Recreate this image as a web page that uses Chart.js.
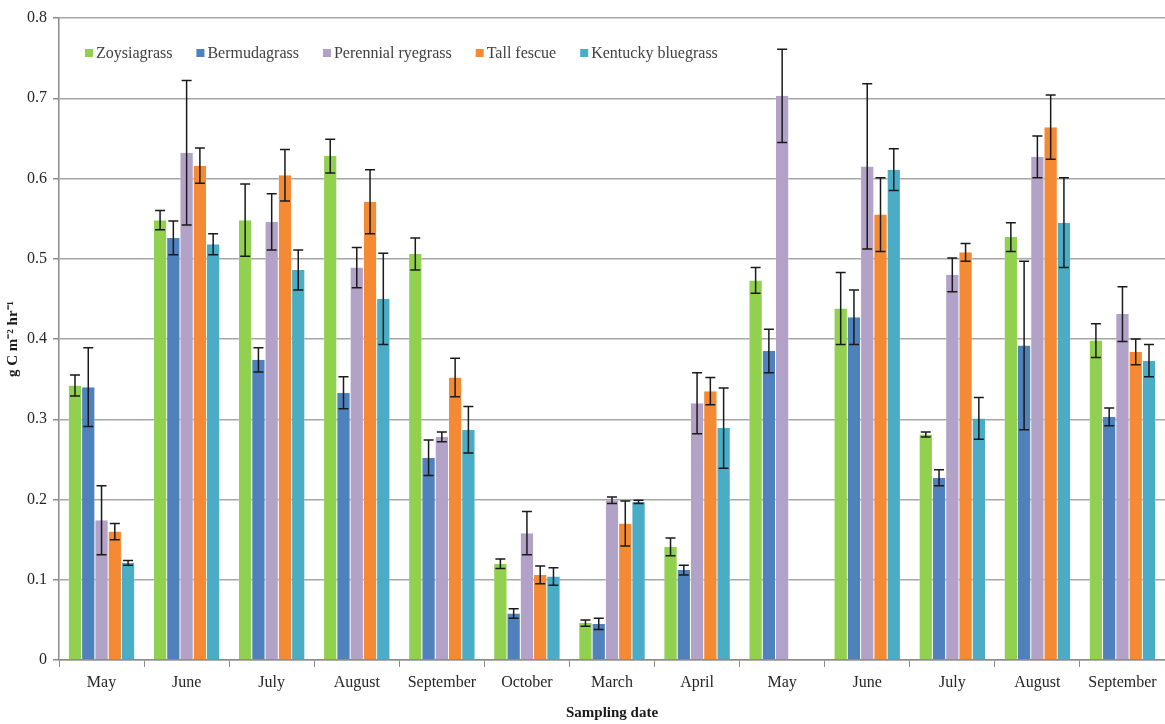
<!DOCTYPE html>
<html>
<head>
<meta charset="utf-8">
<script src="https://cdn.jsdelivr.net/npm/chart.js@4.4.0/dist/chart.umd.min.js"></script>
<style>
html,body{margin:0;padding:0;background:#fff;}
#wrap{width:1165px;height:724px;position:relative;}
</style>
</head>
<body>
<div id="wrap"><canvas id="c" width="1165" height="724"></canvas></div>
<script>
const categories = ["May","June","July","August","September","October","March","April","May","June","July","August","September"];
const seriesNames = ["Zoysiagrass","Bermudagrass","Perennial ryegrass","Tall fescue","Kentucky bluegrass"];
const seriesColors = ["#92D050","#4F81BD","#B3A2C7","#F58A35","#4BACC6"];

const zoysia     = [0.342,0.548,0.548,0.628,0.506,0.120,0.046,0.141,0.473,0.438,0.281,0.527,0.398];
const bermuda    = [0.340,0.526,0.374,0.333,0.252,0.058,0.045,0.112,0.385,0.427,0.227,0.392,0.303];
const perennial  = [0.174,0.632,0.546,0.489,0.278,0.158,0.199,0.320,0.703,0.615,0.480,0.627,0.431];
const tallFescue = [0.160,0.616,0.604,0.571,0.352,0.106,0.170,0.335,null,0.555,0.508,0.664,0.384];
const kentucky   = [0.121,0.518,0.486,0.450,0.287,0.104,0.197,0.289,null,0.611,0.301,0.545,0.373];

const zoysiaErr     = [0.013,0.012,0.045,0.021,0.020,0.006,0.004,0.011,0.016,0.045,0.003,0.018,0.021];
const bermudaErr    = [0.049,0.021,0.015,0.020,0.022,0.006,0.007,0.006,0.027,0.034,0.010,0.105,0.011];
const perennialErr  = [0.043,0.090,0.035,0.025,0.006,0.027,0.004,0.038,0.058,0.103,0.021,0.026,0.034];
const tallFescueErr = [0.010,0.022,0.032,0.040,0.024,0.011,0.028,0.017,null,0.046,0.011,0.040,0.016];
const kentuckyErr   = [0.003,0.013,0.025,0.057,0.029,0.011,0.002,0.050,null,0.026,0.026,0.056,0.020];

const yTicks = {min:0, max:0.8, step:0.1};

const values = [zoysia,bermuda,perennial,tallFescue,kentucky];
const errors = [zoysiaErr,bermudaErr,perennialErr,tallFescueErr,kentuckyErr];

const FONT = "'Liberation Serif', 'Times New Roman', serif";

const errorBarPlugin = {
  id:'errorBars',
  afterDatasetsDraw(chart){
    const ctx = chart.ctx;
    const yScale = chart.scales.y;
    ctx.save();
    ctx.strokeStyle = '#1a1a1a';
    ctx.lineWidth = 1.5;
    chart.data.datasets.forEach((ds, di) => {
      const meta = chart.getDatasetMeta(di);
      meta.data.forEach((bar, i) => {
        const v = ds.data[i], e = ds.errors[i];
        if (v == null || e == null) return;
        const x = bar.x;
        const yTop = yScale.getPixelForValue(v + e);
        const yBot = yScale.getPixelForValue(v - e);
        const cap = 5;
        ctx.beginPath();
        ctx.moveTo(x, yTop); ctx.lineTo(x, yBot);
        ctx.moveTo(x - cap, yTop); ctx.lineTo(x + cap, yTop);
        ctx.moveTo(x - cap, yBot); ctx.lineTo(x + cap, yBot);
        ctx.stroke();
      });
    });
    ctx.restore();
  }
};

const legendPlugin = {
  id:'innerLegend',
  afterDraw(chart){
    const ctx = chart.ctx;
    ctx.save();
    ctx.font = "16px " + FONT;
    ctx.textBaseline = 'middle';
    let x = chart.chartArea.left + 26;
    const y = 53;
    chart.data.datasets.forEach(ds => {
      ctx.fillStyle = ds.backgroundColor;
      ctx.fillRect(x, y - 4, 8, 8);
      x += 11;
      ctx.fillStyle = '#404040';
      ctx.fillText(ds.label, x, y + 1);
      x += ctx.measureText(ds.label).width + 24;
    });
    ctx.restore();
  }
};

new Chart(document.getElementById('c'), {
  type:'bar',
  data:{
    labels:categories,
    datasets: seriesNames.map((n, k) => ({
      label:n,
      data:values[k],
      errors:errors[k],
      backgroundColor:seriesColors[k],
      borderColor:'rgba(255,255,255,0.6)',
      borderWidth:{left:0.5,right:0.5,top:0,bottom:0},
      categoryPercentage:0.78,
      barPercentage:1.0
    }))
  },
  options:{
    responsive:false,
    animation:false,
    layout:{padding:{top:18,right:0,bottom:0,left:0}},
    plugins:{legend:{display:false}, tooltip:{enabled:false}},
    scales:{
      x:{
        grid:{display:true, offset:true, drawOnChartArea:false, drawTicks:true, tickLength:7, color:'#8c8c8c', lineWidth:1},
        border:{display:true, color:'#8c8c8c', width:1.5},
        ticks:{color:'#262626', font:{family:FONT, size:16}, padding:6, maxRotation:0, autoSkip:false},
        title:{display:true, text:'Sampling date', color:'#1a1a1a', font:{family:FONT, size:15, weight:'bold'}, padding:{top:7,bottom:2}},
        afterFit(s){ s.height = 64; }
      },
      y:{
        min:yTicks.min, max:yTicks.max,
        grid:{color:'#a6a6a6', lineWidth:1.5, drawTicks:true, tickLength:6, tickColor:'#8c8c8c'},
        border:{display:true, color:'#8c8c8c', width:1.5},
        ticks:{stepSize:yTicks.step, color:'#262626', font:{family:FONT, size:16}, padding:6},
        title:{display:true, text:'g C m\u207B\u00B2 hr\u207B\u00B9', color:'#1a1a1a', font:{family:FONT, size:15, weight:'bold'}, padding:{top:4,bottom:0}},
        afterFit(s){ s.width = 59; }
      }
    }
  },
  plugins:[errorBarPlugin, legendPlugin]
});
</script>
</body>
</html>
